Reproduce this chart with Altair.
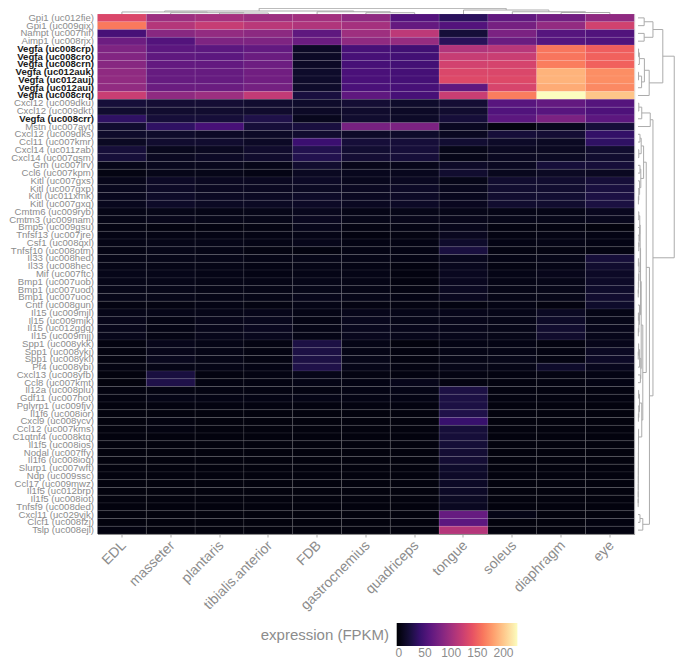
import altair as alt
import pandas as pd

tissues = ["EDL", "masseter", "plantaris", "tibialis.anterior", "FDB", "gastrocnemius",
           "quadriceps", "tongue", "soleus", "diaphragm", "eye"]

genes = ["Gpi1 (uc012fie)", "Gpi1 (uc009gix)", "Nampt (uc007nif)", "Aimp1 (uc008rjx)",
         "Vegfa (uc008crp)", "Vegfa (uc008cro)", "Vegfa (uc008crn)", "Vegfa (uc012auk)",
         "Vegfa (uc012auj)", "Vegfa (uc012aui)", "Vegfa (uc008crq)", "Cxcl12 (uc009dku)",
         "Cxcl12 (uc009dkt)", "Vegfa (uc008crr)", "Mstn (uc007ayt)", "Cxcl12 (uc009dks)",
         "Ccl11 (uc007kmr)", "Cxcl14 (uc011zab)", "Cxcl14 (uc007qsm)", "Grn (uc007lrv)",
         "Ccl6 (uc007kpm)", "Kitl (uc007gxs)", "Kitl (uc007gxp)", "Kitl (uc011xmk)",
         "Kitl (uc007gxq)", "Cmtm6 (uc009ryb)", "Cmtm3 (uc009nam)", "Bmp5 (uc009gsu)",
         "Tnfsf13 (uc007jre)", "Csf1 (uc008qxl)", "Tnfsf10 (uc008otm)", "Il33 (uc008hed)",
         "Il33 (uc008hec)", "Mif (uc007ftc)", "Bmp1 (uc007uob)", "Bmp1 (uc007uod)",
         "Bmp1 (uc007uoc)", "Cntf (uc008gun)", "Il15 (uc009mjl)", "Il15 (uc009mjk)",
         "Il15 (uc012ggq)", "Il15 (uc009mjj)", "Spp1 (uc008ykk)", "Spp1 (uc008ykj)",
         "Spp1 (uc008yki)", "Pf4 (uc008ybi)", "Cxcl13 (uc008yfb)", "Ccl8 (uc007kmt)",
         "Il12a (uc008plu)", "Gdf11 (uc007hot)", "Pglyrp1 (uc009fjv)", "Il1f6 (uc008ior)",
         "Cxcl9 (uc008ycv)", "Ccl12 (uc007kms)", "C1qtnf4 (uc008ktq)", "Il1f5 (uc008ios)",
         "Nodal (uc007ffy)", "Il1f6 (uc008ioq)", "Slurp1 (uc007wft)", "Ndp (uc009ssc)",
         "Ccl17 (uc009mwz)", "Il1f5 (uc012brp)", "Il1f5 (uc008iot)", "Tnfsf9 (uc008ded)",
         "Cxcl11 (uc029vjk)", "Clcf1 (uc008fzj)", "Tslp (uc008ejl)"]

expression = [
    [132, 97, 102, 97, 100, 90, 55, 33, 63, 72, 90],
    [162, 110, 120, 113, 108, 102, 65, 55, 75, 92, 126],
    [48, 86, 92, 88, 62, 98, 115, 20, 78, 57, 54],
    [70, 55, 80, 80, 68, 90, 93, 32, 68, 57, 54],
    [80, 60, 60, 64, 12, 48, 45, 108, 112, 160, 148],
    [82, 62, 60, 68, 12, 48, 46, 120, 122, 160, 150],
    [85, 64, 64, 70, 12, 48, 46, 127, 129, 164, 150],
    [90, 66, 66, 72, 14, 50, 47, 132, 132, 190, 172],
    [91, 66, 66, 72, 14, 50, 47, 134, 134, 190, 172],
    [91, 68, 68, 74, 14, 50, 48, 62, 130, 186, 170],
    [122, 90, 97, 118, 22, 62, 48, 122, 164, 227, 199],
    [20, 18, 18, 16, 14, 18, 14, 18, 58, 64, 56],
    [16, 16, 16, 15, 12, 15, 12, 16, 54, 58, 52],
    [36, 20, 20, 26, 8, 16, 13, 20, 60, 78, 60],
    [16, 36, 48, 20, 22, 76, 78, 10, 1, 8, 20],
    [14, 14, 12, 12, 16, 13, 14, 10, 20, 18, 38],
    [11, 16, 16, 12, 42, 20, 20, 17, 13, 11, 36],
    [20, 8, 10, 15, 28, 17, 20, 6, 10, 10, 16],
    [20, 10, 12, 15, 28, 18, 20, 6, 10, 11, 16],
    [6, 8, 8, 6, 16, 7, 7, 13, 10, 20, 20],
    [3, 6, 6, 4, 10, 8, 8, 16, 8, 11, 10],
    [7, 12, 10, 10, 12, 8, 10, 6, 16, 16, 20],
    [8, 12, 10, 10, 11, 10, 12, 8, 16, 16, 22],
    [8, 13, 11, 11, 13, 10, 12, 8, 16, 17, 24],
    [8, 13, 11, 11, 12, 10, 12, 9, 16, 16, 23],
    [5, 6, 5, 6, 8, 5, 6, 6, 5, 5, 9],
    [5, 7, 6, 6, 9, 6, 7, 7, 6, 6, 8],
    [3, 2, 2, 3, 7, 3, 4, 7, 2, 2, 1],
    [4, 4, 4, 4, 5, 2, 3, 9, 3, 4, 4],
    [5, 6, 6, 5, 7, 4, 4, 14, 4, 5, 4],
    [4, 6, 5, 3, 2, 4, 4, 22, 3, 3, 3],
    [5, 6, 6, 5, 6, 5, 4, 8, 4, 6, 20],
    [5, 5, 5, 4, 5, 4, 2, 8, 3, 5, 16],
    [6, 6, 5, 4, 5, 5, 2, 9, 5, 7, 12],
    [6, 6, 5, 5, 6, 5, 2, 9, 5, 6, 13],
    [6, 6, 5, 5, 6, 5, 3, 10, 5, 6, 14],
    [6, 6, 5, 5, 7, 6, 4, 9, 5, 6, 16],
    [3, 3, 4, 3, 5, 3, 3, 2, 4, 2, 14],
    [6, 6, 6, 7, 5, 7, 6, 7, 6, 11, 5],
    [7, 4, 7, 8, 4, 8, 6, 7, 6, 13, 6],
    [7, 4, 7, 9, 5, 8, 7, 7, 6, 16, 7],
    [7, 4, 7, 8, 5, 8, 7, 7, 6, 15, 7],
    [2, 7, 5, 3, 24, 5, 1, 4, 4, 2, 7],
    [2, 7, 5, 3, 24, 5, 2, 5, 5, 3, 11],
    [2, 8, 5, 3, 24, 6, 2, 5, 6, 3, 12],
    [3, 5, 5, 4, 26, 6, 3, 6, 5, 14, 8],
    [1, 22, 2, 3, 6, 3, 2, 3, 2, 3, 4],
    [1, 26, 3, 3, 5, 4, 7, 3, 2, 3, 4],
    [2, 3, 3, 3, 3, 4, 5, 24, 2, 2, 2],
    [2, 5, 4, 4, 5, 4, 4, 24, 2, 2, 2],
    [1, 2, 2, 2, 2, 2, 2, 24, 1, 1, 1],
    [1, 1, 1, 1, 1, 1, 1, 26, 1, 1, 1],
    [1, 2, 1, 1, 1, 1, 1, 40, 1, 1, 1],
    [1, 2, 1, 1, 1, 1, 1, 20, 1, 1, 1],
    [1, 1, 1, 1, 1, 1, 1, 20, 1, 1, 1],
    [1, 1, 1, 1, 1, 1, 1, 19, 1, 1, 1],
    [1, 1, 1, 1, 1, 1, 1, 18, 1, 1, 1],
    [1, 1, 1, 1, 1, 1, 1, 18, 1, 1, 1],
    [1, 1, 1, 1, 1, 1, 1, 14, 1, 1, 1],
    [1, 1, 1, 1, 1, 1, 1, 13, 1, 1, 1],
    [1, 1, 1, 1, 1, 1, 1, 12, 1, 1, 1],
    [1, 1, 1, 1, 1, 1, 1, 12, 1, 1, 1],
    [1, 1, 1, 1, 1, 1, 1, 11, 1, 1, 1],
    [1, 1, 1, 1, 1, 1, 1, 10, 1, 1, 1],
    [1, 1, 1, 1, 1, 1, 1, 66, 5, 1, 1],
    [1, 1, 1, 1, 1, 1, 1, 60, 1, 1, 2],
    [2, 1, 1, 1, 1, 1, 1, 110, 1, 1, 2],
]

# dendrogram merges: (left child, right child, merge height); ints are 1-based leaf numbers
column_tree = (
    ((1, (2, (3, 4, 1.3), 1.7), 2.7), (5, (6, 7, 1.7), 3.0), 4.0),
    (8, (9, (10, 11, 2.0), 3.0), 5.3),
    7.6,
)

row_I = ((1, 2, 7.7), (3, 4, 7.7), 18.7)
row_II = ((((5, 6, 0.7), 7, 1.7), ((8, 9, 0.7), 10, 4.5), 8.0), 11, 14.0)
row_N = (((12, 13, 1.0), 14, 4.7), 15, 15.3)
row_G = (((16, 17, 2.5), (18, 19, 1.0), 4.0),
         ((20, 21, 2.5), (22, (23, (24, 25, 0.5), 1.0), 2.0), 3.5), 7.0)
row_H1a = ((((26, 27, 1.0), (28, (29, (30, 31, 1.0), 1.3), 1.8), 2.2),
            ((32, 33, 0.5), (34, (35, (36, 37, 0.3), 0.5), 0.8), 1.2), 2.7),
           (38, ((39, 40, 0.5), (41, 42, 0.4), 1.0), 1.8), 3.2)
row_H1b = (((43, (44, 45, 0.3), 0.8), 46, 2.0), (47, 48, 3.0), 3.5)
row_H2 = (((49, 50, 0.8), (51, (52, 53, 0.5), 1.0), 1.8),
          (54, (55, (56, (57, (58, (59, (60, (61, (62, (63, 64, 0.2), 0.3), 0.3), 0.4), 0.4),
                                0.5), 0.5), 0.6), 0.6), 0.7), 4.7)
row_E = (row_G, ((row_H1a, row_H1b, 4.0), row_H2, 6.0), 10.3)
row_F = ((65, 66, 2.5), 67, 6.0)
row_tree = ((row_I, row_II, 31.0), (row_N, (row_E, row_F, 14.3), 18.7), 45.3)

GREY = "#8c8c8c"
LINE = "#ababab"
FONT = "Liberation Sans"


def segments(node, out):
    """Return (position, height) of a node and collect its bracket segments."""
    if isinstance(node, int):
        return node - 0.5, 0.0
    left, right, h = node
    pl, hl = segments(left, out)
    pr, hr = segments(right, out)
    out.append({"p": pl, "p2": pl, "h": hl, "h2": h})
    out.append({"p": pr, "p2": pr, "h": hr, "h2": h})
    out.append({"p": pl, "p2": pr, "h": h, "h2": h})
    return (pl + pr) / 2, h


col_segments, row_segments = [], []
segments(column_tree, col_segments)
segments(row_tree, row_segments)

heat_df = pd.DataFrame(
    [{"gene": g, "tissue": t, "fpkm": v}
     for g, row in zip(genes, expression) for t, v in zip(tissues, row)]
)

HEAT_W, HEAT_H = 536.8, 520
TOP_PX_PER_UNIT = 0.75     # column dendrogram: pixels per unit of merge height
RIGHT_PX_PER_UNIT = 0.8    # row dendrogram: pixels per unit of merge height
RIGHT_GAP = 3.7

heat = (
    alt.Chart(heat_df)
    .mark_rect(stroke="#ffffff", strokeWidth=0.4, strokeOpacity=0.2)
    .encode(
        x=alt.X("tissue:N", sort=tissues, title=None,
                axis=alt.Axis(labelAngle=-45, labelAlign="right", labelBaseline="middle",
                              labelFontSize=14, labelColor=GREY, labelFont=FONT,
                              labelPadding=6, labelOffset=2, tickSize=3, tickColor=LINE,
                              domainColor=GREY, labelOverlap=False, grid=False)),
        y=alt.Y("gene:N", sort=genes, title=None,
                axis=alt.Axis(ticks=False, domain=False, grid=False, labelFontSize=9.6, labelFont=FONT,
                              labelPadding=4, labelOverlap=False, labelSeparation=0,
                              labelColor=alt.expr("indexof(datum.label, 'Vegfa') == 0 ? '#1a1a1a' : '#8c8c8c'"),
                              labelFontWeight=alt.expr("indexof(datum.label, 'Vegfa') == 0 ? 'bold' : 'normal'"))),
        color=alt.Color("fpkm:Q", title="expression (FPKM)",
                        scale=alt.Scale(scheme="magma", domain=[-4, 226.5], clamp=True),
                        legend=alt.Legend(orient="none", direction="horizontal", titleOrient="left",
                                          titleAnchor="middle",
                                          legendX=163.2, legendY=609, gradientLength=120.7,
                                          gradientThickness=23, values=[0, 50, 100, 150, 200],
                                          labelFontSize=12, labelColor=GREY, labelFont=FONT,
                                          titleFontSize=15, titleColor=GREY, titleFont=FONT,
                                          titleFontWeight="normal", titlePadding=7,
                                          labelOverlap=False)),
    )
)

# The dendrograms share the heatmap's plot box; their height scales run on past it,
# so that height 0 sits on the box's edge and the tree grows outwards.
top_dendro = (
    alt.Chart(pd.DataFrame(col_segments))
    .mark_rule(color=LINE, strokeWidth=1, clip=False)
    .encode(
        x=alt.X("p:Q", axis=None, scale=alt.Scale(domain=[0, 11], nice=False, zero=False)),
        x2="p2:Q",
        y=alt.Y("h:Q", axis=None,
                scale=alt.Scale(domain=[-HEAT_H / TOP_PX_PER_UNIT, 0], nice=False, zero=False)),
        y2="h2:Q",
    )
)

right_start = -(HEAT_W + RIGHT_GAP) / RIGHT_PX_PER_UNIT
right_dendro = (
    alt.Chart(pd.DataFrame(row_segments))
    .mark_rule(color=LINE, strokeWidth=1, clip=False)
    .encode(
        x=alt.X("h:Q", axis=None,
                scale=alt.Scale(domain=[right_start, right_start + HEAT_W / RIGHT_PX_PER_UNIT],
                                nice=False, zero=False)),
        x2="h2:Q",
        y=alt.Y("p:Q", axis=None, scale=alt.Scale(domain=[67, 0], nice=False, zero=False)),
        y2="p2:Q",
    )
)

chart = (
    alt.layer(heat, top_dendro, right_dendro)
    .resolve_scale(x="independent", y="independent")
    .properties(
        width=HEAT_W,
        height=HEAT_H,
        autosize=alt.AutoSizeParams(type="none"),
        padding={"left": 89.5, "top": 6, "right": 41.7, "bottom": 127},
    )
    .configure_view(stroke=None)
    .configure(font=FONT)
)

chart.save("out.html", embed_options={"renderer": "svg", "actions": False})
